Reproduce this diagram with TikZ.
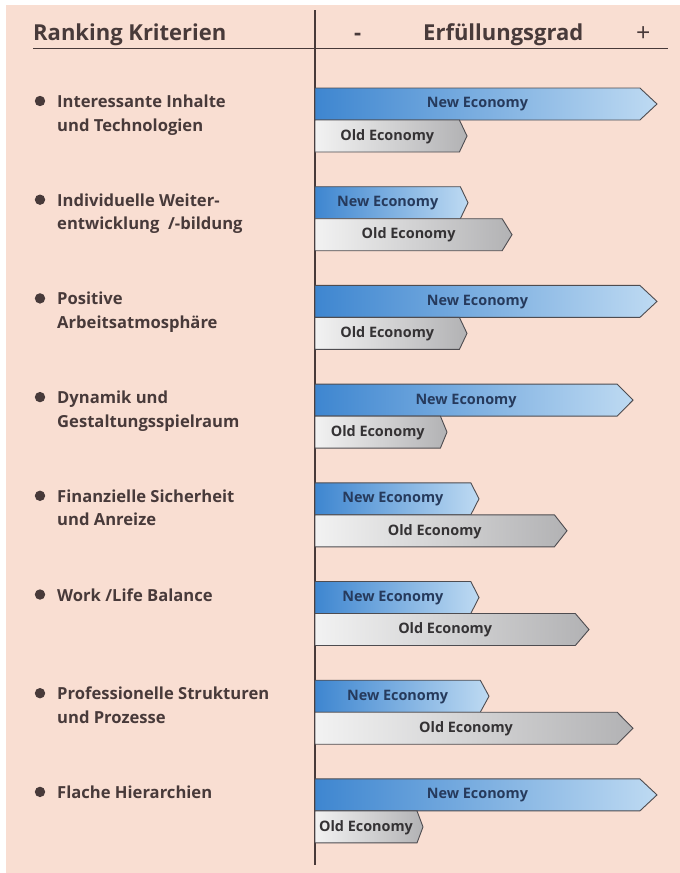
\documentclass[tikz,border=0pt]{standalone}
\usepackage{fontspec}
\setmainfont{Open Sans}
\definecolor{bg}{RGB}{249,222,210}
\definecolor{txt}{RGB}{72,58,58}
\definecolor{netxt}{RGB}{38,58,92}
\definecolor{oetxt}{RGB}{52,50,52}
\definecolor{neL}{RGB}{62,134,208}
\definecolor{neR}{RGB}{190,218,242}
\definecolor{oeL}{RGB}{242,242,242}
\definecolor{oeR}{RGB}{178,178,180}
\definecolor{edge}{RGB}{78,76,80}
\newcommand\drawbar[5]{%
  \pgfmathsetmacro\dd{max(6,0.05*(#3-315))}%
  \pgfmathsetmacro\bx{#3-\dd}%
  \path[#4] (315,#2) -- (\bx,#2) -- (#3,#2+16) -- (\bx,#2+32) -- (315,#2+32) -- cycle;
  \node[barlbl,text=#4txt] (#1) at ({(315+\bx)/2},#2+16.5) {#5};
}
\newcommand\critrow[7]{% #1 name, #2 top y, #3 ne tip, #4 oe tip, #5 line1, #6 line2
  \fill[txt] (40,#2+13) circle (5.2);
  \node[crit] (#1a) at (57,#2+19.5) {#5};
  \node[crit] (#1b) at (57,#2+43) {#6};
  \drawbar{#1ne}{#2}{#3}{ne}{New Economy}
  \drawbar{#1oe}{#2+32}{#4}{oe}{Old Economy}
}
\begin{document}
\begin{tikzpicture}[x=1pt,y=-1pt,
  hdr/.style={font=\bfseries\fontsize{22}{24}\selectfont, text=txt, anchor=base west, inner sep=0},
  crit/.style={font=\bfseries\fontsize{16.6}{20}\selectfont, text=txt, anchor=base west, inner sep=0},
  barlbl/.style={font=\bfseries\fontsize{14.4}{16}\selectfont, inner sep=0},
  ne/.style={draw=edge, line width=0.9pt, left color=neL, right color=neR},
  oe/.style={draw=edge, line width=0.9pt, left color=oeL, right color=oeR},
  rule/.style={draw=txt, line width=1.1pt}]
\useasboundingbox (0,0) rectangle (680,873);
\fill[white] (0,0) rectangle (680,873);
\fill[bg] (6,5) rectangle (680,873);
% header
\node[hdr] (h1) at (33,40) {Ranking Kriterien};
\node[hdr] (hm) at (354,40) {-};
\node[hdr] (h2) at (423,40) {Erfüllungsgrad};
\node[hdr,font=\fontsize{25}{25}\selectfont] (hp) at (636,41) {+};
\path[rule] (33,48.5) -- (668,48.5);
\path[rule] (315,10) -- (315,865);
% rows
\critrow{r1}{88}{657}{467}{Interessante Inhalte}{und Technologien}{}
\critrow{r2}{186.7}{468}{512}{Individuelle Weiter-}{entwicklung \ /-bildung}{}
\critrow{r3}{285.4}{657}{467}{Positive}{Arbeitsatmosphäre}{}
\critrow{r4}{384.1}{633}{447}{Dynamik und}{Gestaltungsspielraum}{}
\critrow{r5}{482.8}{479}{567}{Finanzielle Sicherheit}{und Anreize}{}
\critrow{r6}{581.5}{479}{589}{Work /Life Balance}{}{}
\critrow{r7}{680.2}{489}{633}{Professionelle Strukturen}{und Prozesse}{}
\critrow{r8}{778.9}{657}{423}{Flache Hierarchien}{}{}
\end{tikzpicture}
\end{document}
